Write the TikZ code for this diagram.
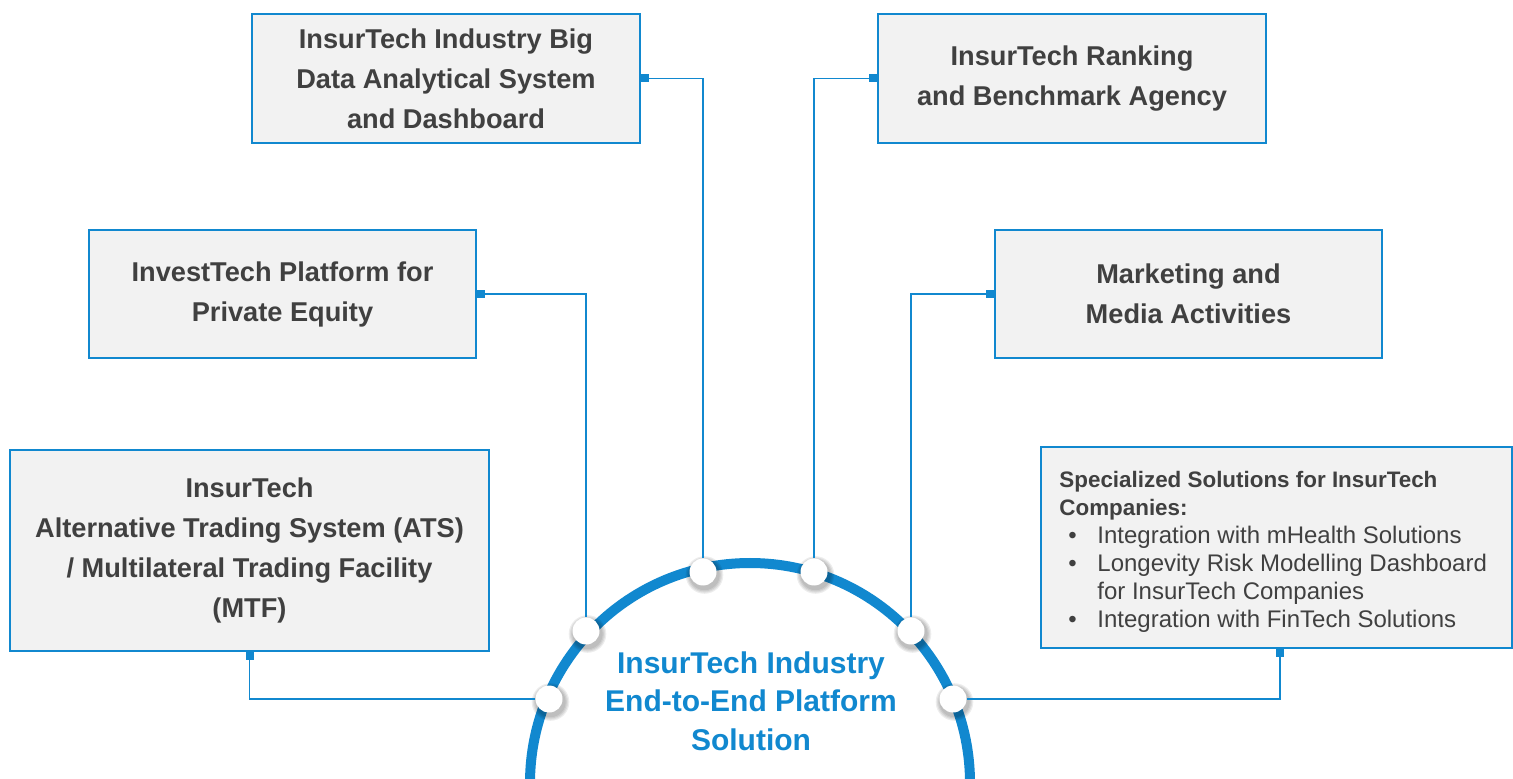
\documentclass[tikz,border=0pt]{standalone}
\usepackage{fontspec}
\setmainfont{Liberation Sans}
\definecolor{cblue}{HTML}{1188CF}
\definecolor{boxfill}{HTML}{F2F2F2}
\definecolor{tgray}{HTML}{404040}
\newcommand\bitem[1]{\makebox[19pt][l]{\hspace{4.5pt}\textbullet}#1}
\begin{document}
\begin{tikzpicture}[x=0.5pt,y=-0.5pt,
  box/.style={draw=cblue, line width=0.8pt, fill=boxfill, text=tgray, inner sep=0pt,
    font=\fontsize{13.6}{20}\selectfont\bfseries, align=center},
  conn/.style={draw=cblue, line width=0.75pt},
  sqr/.style={fill=cblue, minimum size=4pt, inner sep=0pt, draw=none},
  dot/.style={circle, fill=white, minimum size=13.5pt, inner sep=0pt, draw=none},
  shd/.style={fill=black, opacity=0.07}]
\useasboundingbox (0,0) rectangle (1513,779);
\clip (0,0) rectangle (1513,779);
% boxes
\node[box, minimum width=194pt, minimum height=64.5pt] (b1) at (446,78.5)
  {InsurTech Industry Big\\Data Analytical System\\and Dashboard};
\node[box, minimum width=194pt, minimum height=64.5pt] (b2) at (1072,78.5)
  {InsurTech Ranking\\and Benchmark Agency};
\node[box, minimum width=193.5pt, minimum height=64pt] (b3) at (282.5,294)
  {InvestTech Platform for\\Private Equity};
\node[box, minimum width=193.5pt, minimum height=64pt] (b4) at (1188.5,294)
  {Marketing and\\Media Activities};
\node[box, minimum width=239.5pt, minimum height=100.5pt] (b5) at (249.5,550.5)
  {InsurTech\\Alternative Trading System (ATS)\\/ Multilateral Trading Facility\\(MTF)};
\node[box, minimum width=235.5pt, minimum height=100.5pt] (b6) at (1276.5,547.5) {};
\node[anchor=west, align=left, text=tgray, inner sep=0pt,
  font=\fontsize{12}{14}\selectfont] (t6) at (1059,552)
  {{\fontsize{11.2}{14}\selectfont\bfseries Specialized Solutions for InsurTech}\\
   {\fontsize{11.2}{14}\selectfont\bfseries Companies:}\\
   \bitem{Integration with mHealth Solutions}\\
   \bitem{Longevity Risk Modelling Dashboard}\\
   \hspace*{19pt}for InsurTech Companies\\
   \bitem{Integration with FinTech Solutions}};
% arc
\draw[cblue, line width=5pt] (750,783) circle[radius=110pt];
% center text
\node[text=cblue, align=center, font=\fontsize{15}{19.3}\selectfont\bfseries] (ct) at (751,701)
  {InsurTech Industry\\End-to-End Platform\\Solution};
% circle shadows
\foreach \px/\py in {703/572,814/572,586/631,911/631,549/699,953/699}{
  \foreach \r in {7.6,8.2,8.8,9.4}{
    \fill[shd] (\px+1.5,\py+3) circle[radius=\r pt];
  }
}
% circles
\node[dot] (c1) at (703,572) {};
\node[dot] (c2) at (814,572) {};
\node[dot] (c3) at (586,631) {};
\node[dot] (c4) at (911,631) {};
\node[dot] (c5) at (549,699) {};
\node[dot] (c6) at (953,699) {};
% connectors
\draw[conn] (b1.east) -| (c1);
\draw[conn] (b2.west) -| (c2);
\draw[conn] (b3.east) -| (c3);
\draw[conn] (b4.west) -| (c4);
\draw[conn] (b5.south) |- (c5);
\draw[conn] ([xshift=1.75pt]b6.south) |- (c6);
% end squares
\node[sqr, anchor=west] (s1) at (b1.east) {};
\node[sqr, anchor=east] (s2) at (b2.west) {};
\node[sqr, anchor=west] (s3) at (b3.east) {};
\node[sqr, anchor=east] (s4) at (b4.west) {};
\node[sqr, anchor=north] (s5) at (b5.south) {};
\node[sqr, anchor=north] (s6) at ([xshift=1.75pt]b6.south) {};
\end{tikzpicture}
\end{document}
